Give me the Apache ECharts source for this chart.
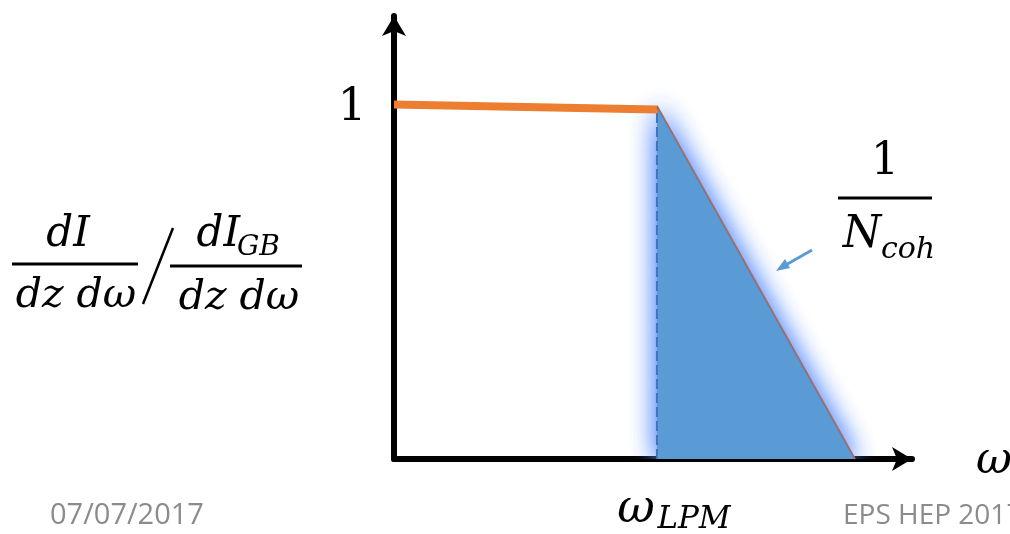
<!DOCTYPE html>
<html><head><meta charset="utf-8">
<script src="https://cdn.jsdelivr.net/npm/echarts@6/dist/echarts.min.js"></script>
<style>html,body{margin:0;padding:0;background:#fff}#c{width:1010px;height:534px}</style>
</head><body><div id="c"></div>
<script>
// x in units of omega/omega_LPM, y in units of the ratio
const plateau = [[0, 1.004], [1, 0.990]];        // orange line
const falloff = [[1, 1.0], [1.753, 0]];          // 1/N_coh fall-off (filled)
const lpmMarker = [[1, 0], [1, 1.0]];            // dashed line at omega_LPM
const axisMax = {x: 1.97, y: 1.255};

const serif = '"DejaVu Serif", "Liberation Serif", serif';
const chart = echarts.init(document.getElementById('c'), null, {renderer: 'canvas'});
function t(x, y, text, size, opts) {
  return Object.assign({type: 'text', x: x, y: y, z: 100,
    style: Object.assign({text: text, font: 'italic ' + size + 'px ' + serif, fill: '#000',
      textAlign: 'center', textVerticalAlign: 'middle'}, opts || {})});
}
function ln(x1, y1, x2, y2, w, c) {
  return {type: 'line', z: 100, shape: {x1, y1, x2, y2}, style: {stroke: c || '#000', lineWidth: w}};
}
function glow(z) {
  return {type: 'line', data: falloff, symbol: 'none', z: z,
    lineStyle: {color: '#5b9bd5', width: 0},
    areaStyle: {color: '#5b9bd5', opacity: 1, origin: 'start',
      shadowBlur: 26, shadowColor: 'rgba(95,145,255,0.9)'}};
}
chart.setOption({
  animation: false,
  grid: {left: 394, right: 98, top: 16, bottom: 75},
  xAxis: {type: 'value', min: 0, max: axisMax.x, splitLine: {show: false},
    axisTick: {show: false}, axisLabel: {show: false},
    axisLine: {show: true, onZero: false, symbol: ['none', 'arrow'], symbolSize: [18, 20],
      lineStyle: {color: '#000', width: 6}}},
  yAxis: {type: 'value', min: 0, max: axisMax.y, splitLine: {show: false},
    axisTick: {show: false}, axisLabel: {show: false},
    axisLine: {show: true, onZero: false, symbol: ['none', 'arrow'], symbolSize: [18, 20],
      lineStyle: {color: '#000', width: 6}}},
  series: [
    glow(1), glow(1),
    {type: 'line', data: falloff, symbol: 'none', z: 2,
      lineStyle: {color: '#9b6f73', width: 2},
      areaStyle: {color: '#5b9bd5', opacity: 1, origin: 'start'}},
    {type: 'line', data: lpmMarker, symbol: 'none', z: 3,
      lineStyle: {color: '#3f74bb', width: 2, type: [10, 4]}},
    {type: 'line', data: plateau, symbol: 'none', z: 4,
      lineStyle: {color: '#ed7d31', width: 8, cap: 'butt'}}
  ],
  graphic: [
    t(352, 108, '1', 45, {font: '45px ' + serif}),
    // left label: dI/(dz dω) / dI_GB/(dz dω)
    t(68, 235, 'dI', 42),
    ln(12, 264, 138, 264, 3),
    t(76, 296, 'dz dω', 41),
    ln(143, 304, 173, 228, 2.5),
    t(240, 235, 'dI', 42, {textAlign: 'right'}),
    t(237, 248, 'GB', 28, {textAlign: 'left'}),
    ln(170, 266, 302, 266, 3),
    t(239, 298, 'dz dω', 41),
    // 1/N_coh
    t(885, 163, '1', 44, {font: '44px ' + serif}),
    ln(838, 198, 932, 198, 3),
    t(862, 236, 'N', 44),
    t(908, 250, 'coh', 30),
    {type: 'line', z: 100, shape: {x1: 812, y1: 250, x2: 784, y2: 266},
      style: {stroke: '#5b9bd5', lineWidth: 3}},
    {type: 'polygon', z: 100, shape: {points: [[776, 271], [785, 259], [790, 268]]},
      style: {fill: '#5b9bd5'}},
    // axis labels
    t(994, 462, 'ω', 44),
    t(636, 510, 'ω', 46),
    t(694, 520, 'LPM', 31),
    {type: 'text', x: 50, y: 516, z: 100, style: {text: '07/07/2017', font: '29px "Open Sans", Lato, sans-serif',
      fill: '#8b8b8b', textVerticalAlign: 'middle'}},
    {type: 'text', x: 843, y: 516, z: 100, style: {text: 'EPS HEP 2017', font: '28px "Open Sans", Lato, sans-serif',
      fill: '#8b8b8b', textVerticalAlign: 'middle'}}
  ]
});
</script></body></html>
